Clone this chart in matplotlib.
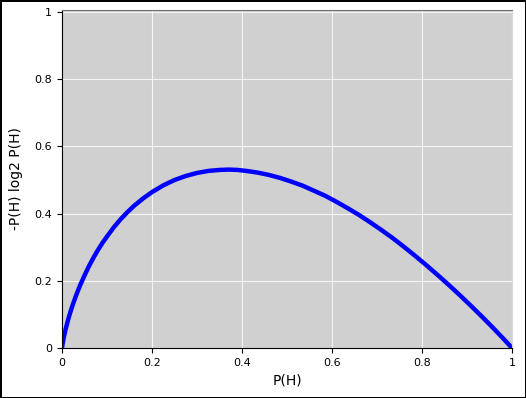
import matplotlib
matplotlib.use('Agg')
import matplotlib.pyplot as plt

# values
p_h = [0, 0.001, 0.002, 0.004, 0.006, 0.008, 0.01, 0.015, 0.02, 0.025, 0.03,
       0.04, 0.05, 0.06, 0.07, 0.08, 0.09, 0.1, 0.115, 0.13, 0.145, 0.16,
       0.18, 0.2, 0.225, 0.25, 0.275, 0.3, 0.325, 0.35, 0.37, 0.39, 0.41,
       0.435, 0.46, 0.485, 0.51, 0.535, 0.56, 0.585, 0.61, 0.635, 0.66,
       0.685, 0.71, 0.735, 0.76, 0.785, 0.81, 0.835, 0.86, 0.885, 0.91,
       0.935, 0.96, 0.98, 1.0]
info = [0, 0.010, 0.018, 0.032, 0.044, 0.056, 0.066, 0.091, 0.113, 0.133,
        0.152, 0.186, 0.216, 0.244, 0.269, 0.292, 0.313, 0.332, 0.359,
        0.383, 0.404, 0.423, 0.445, 0.464, 0.484, 0.500, 0.512, 0.521,
        0.527, 0.530, 0.531, 0.530, 0.527, 0.522, 0.515, 0.506, 0.495,
        0.483, 0.468, 0.453, 0.435, 0.416, 0.396, 0.374, 0.351, 0.327,
        0.301, 0.274, 0.246, 0.217, 0.187, 0.156, 0.124, 0.091, 0.057,
        0.029, 0]
xticks = [0, 0.2, 0.4, 0.6, 0.8, 1]
yticks = [0, 0.2, 0.4, 0.6, 0.8, 1]
tick_labels = ['0', '0.2', '0.4', '0.6', '0.8', '1']

fig = plt.figure(figsize=(5.26, 3.98), dpi=100)
fig.patch.set_edgecolor('black')
fig.patch.set_linewidth(2)
ax = fig.add_axes([0.1179, 0.1256, 0.8555, 0.8493])
ax.set_facecolor('#d0d0d0')
ax.grid(True, color='white', lw=0.8, alpha=0.8)
ax.set_axisbelow(True)

ax.plot(p_h, info, color='blue', lw=3.2, solid_joinstyle='round')

ax.set_xlim(0, 1)
ax.set_ylim(0, 1.006)
ax.set_xticks(xticks)
ax.set_xticklabels(tick_labels)
ax.set_yticks(yticks)
ax.set_yticklabels(tick_labels)
ax.tick_params(labelsize=8)
ax.set_xlabel('P(H)', fontsize=10)
ax.set_ylabel('-P(H) log2 P(H)', fontsize=10, labelpad=8)

ax.spines['top'].set_color('#707070')
ax.spines['right'].set_color('#d8d8d8')

fig.savefig('out.png', dpi=100, edgecolor=fig.get_edgecolor())
